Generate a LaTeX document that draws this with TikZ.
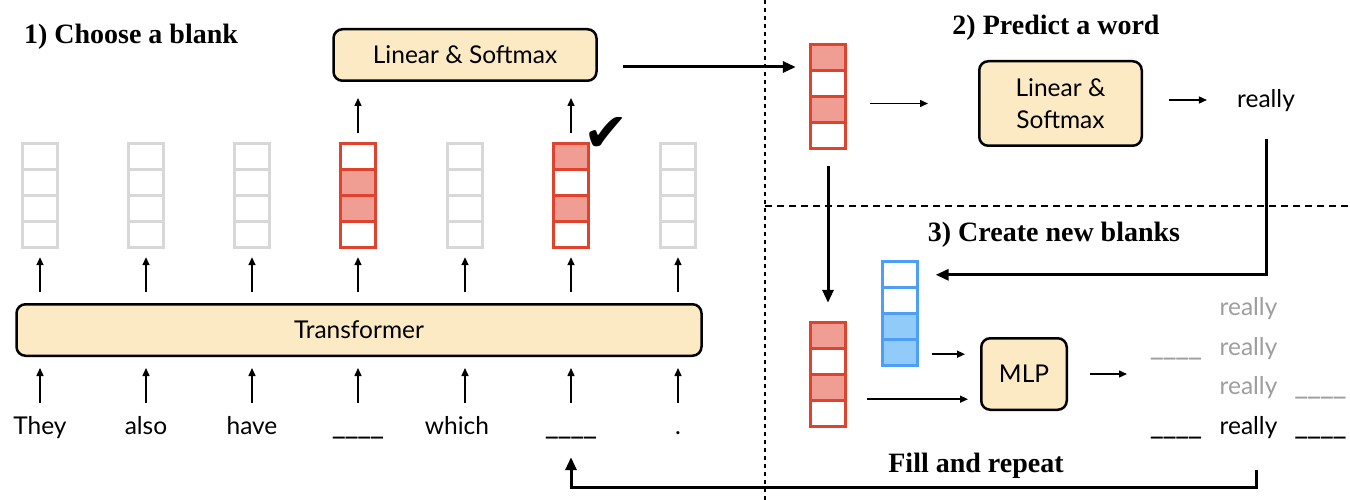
\documentclass[tikz,border=0pt]{standalone}
\usepackage{fontspec}
\usepackage{graphicx}
\setmainfont{Lato}
\newfontfamily\titlefont{Liberation Serif}
\newfontfamily\symfont{DejaVu Sans}
\usetikzlibrary{arrows.meta,calc}
\definecolor{boxfill}{HTML}{FCEAC5}
\definecolor{rededge}{HTML}{E0432D}
\definecolor{redfill}{HTML}{F09D94}
\definecolor{grayedge}{HTML}{D8D8D8}
\definecolor{blueedge}{HTML}{4D9EF6}
\definecolor{bluefill}{HTML}{91CBF9}
\definecolor{graytext}{HTML}{9E9E9E}
\newcommand{\blank}{\scalebox{1.25}[1.3]{\_\kern-1pt\_\kern-1pt\_\kern-1pt\_}}
\tikzset{
 box/.style={draw=black, line width=2.5pt, fill=boxfill, rounded corners=9pt, inner sep=0pt, font=\fontsize{24.5}{32}\selectfont, align=center},
 word/.style={inner sep=0pt, anchor=base, text height=17pt, text depth=5pt, font=\fontsize{24.5}{28}\selectfont},
 title/.style={inner sep=0pt, anchor=base, font=\titlefont\bfseries\fontsize{28}{32}\selectfont},
 thinarrow/.style={line width=1.5pt, -{Triangle[length=8pt,width=7pt]}},
 thickarrow/.style={line width=3pt, -{Triangle[length=13pt,width=11pt]}},
 vecnode/.style={inner sep=0pt, minimum width=38pt, minimum height=107pt},
 sep/.style={line width=2.5pt},
}
\newcommand{\cellvec}[8]{%
 \node[vecnode] (#1) at (#2, {#3+53.5}) {};
 \foreach \f [count=\i] in {#5,#6,#7,#8}{
   \draw[line width=3pt, draw=#4, fill=\f] ({#2-17.5},{#3+1.5+(\i-1)*26}) rectangle ({#2+17.5},{#3+1.5+\i*26});
 }
}
\begin{document}
\begin{tikzpicture}[x=1pt,y=-1pt]
\useasboundingbox (0,0) rectangle (1350,500);
% separators
\draw[sep, dash pattern=on 4pt off 4pt] (765,0) -- (765,500);
\draw[sep, dash pattern=on 7pt off 5pt] (765,206) -- (1350,206);
% titles
\node[title] (t1) at (131,44) {1) Choose a blank};
\node[title] (t2) at (1056,35) {2) Predict a word};
\node[title] (t3) at (1054,241) {3) Create new blanks};
\node[title] (t4) at (976,472) {Fill and repeat};
% boxes
\node[box, minimum width=263pt, minimum height=51.5pt] (L1) at (465,55) {Linear \& Softmax};
\node[box, minimum width=685pt, minimum height=51.5pt] (T) at (359,330) {Transformer};
\node[box, minimum width=162.5pt, minimum height=84.5pt] (L2) at (1060.5,103.5) {Linear \&\\Softmax};
\node[box, minimum width=85.5pt, minimum height=71.5pt] (MLP) at (1024,374) {MLP};
% vectors
\cellvec{v1}{40}{142}{grayedge}{white}{white}{white}{white}
\cellvec{v2}{146}{142}{grayedge}{white}{white}{white}{white}
\cellvec{v3}{252}{142}{grayedge}{white}{white}{white}{white}
\cellvec{v4}{358}{142}{rededge}{white}{redfill}{redfill}{white}
\cellvec{v5}{465}{142}{grayedge}{white}{white}{white}{white}
\cellvec{v6}{571}{142}{rededge}{redfill}{white}{redfill}{white}
\cellvec{v7}{678}{142}{grayedge}{white}{white}{white}{white}
\cellvec{pv}{828}{43}{rededge}{redfill}{white}{redfill}{white}
\cellvec{rv}{828}{321}{rededge}{redfill}{white}{redfill}{white}
\cellvec{bv}{899.5}{260}{blueedge}{white}{white}{bluefill}{bluefill}
\node[inner sep=0pt, font=\symfont\fontsize{54}{54}\selectfont] (ck) at (606,134) {✔};
% words
\node[word] (w1) at (40,434) {They};
\node[word] (w2) at (146,434) {also};
\node[word] (w3) at (252,434) {have};
\node[word] (w4) at (358,434) {\blank};
\node[word] (w5) at (457,434) {which};
\node[word] (w6) at (571,434) {\blank};
\node[word] (w7) at (678,434) {.};
% arrows column
\foreach \i in {1,...,7}{
  \draw[thinarrow, shorten <=11pt, shorten >=8pt] (T.north -| v\i) -- (v\i.south);
  \draw[thinarrow, shorten <=14pt, shorten >=11pt] (w\i.north -| v\i) -- (T.south -| v\i);
}
\draw[thinarrow, shorten <=9pt, shorten >=16pt] (v4.north) -- (v4.north |- L1.south);
\draw[thinarrow, shorten <=9pt, shorten >=16pt] (v6.north) -- (v6.north |- L1.south);
% predict
\draw[thickarrow, shorten >=13pt] ([xshift=25pt, yshift=-12pt]L1.east) -- ([yshift=-12pt]L1.east -| pv.west);
\draw[thinarrow, shorten <=23pt, shorten >=50pt] (pv.east |- L2.west) -- (L2.west);
\node[word] (r1) at (1266,108) {really};
\draw[thinarrow, shorten <=26pt, shorten >=30pt] ([yshift=3.5pt]L2.east) -- ([yshift=3.5pt]L2.east -| r1.west);
\draw[thickarrow, shorten <=26pt] (r1.south) |- ([xshift=17pt,yshift=-15pt]bv.north east);
\draw[thickarrow, shorten <=16pt, shorten >=18pt] (pv.south) -- (rv.north);
% create
\draw[thinarrow, shorten <=13pt, shorten >=15pt] ([yshift=13pt]bv.south east) -- ([yshift=13pt]bv.south east -| MLP.west);
\draw[thinarrow, shorten <=20pt, shorten >=12pt] ([yshift=29pt]rv.south east) -- ([yshift=29pt]rv.south east -| MLP.west);
\coordinate (out) at (1127,374);
\draw[thinarrow, shorten <=22pt] (MLP.east) -- (out);
% outputs
\node[word, text=graytext] (g1) at (1248.5,315) {really};
\node[word, text=graytext] (g2) at (1248.5,355) {really};
\node[word, text=graytext] (g3) at (1248.5,394) {really};
\node[word] (b4) at (1248.5,434) {really};
\node[word, text=graytext] (bl2) at (1176,355) {\blank};
\node[word, text=graytext] (br3) at (1320.5,394) {\blank};
\node[word] (bl4) at (1176,434) {\blank};
\node[word] (br4) at (1320.5,434) {\blank};
% feedback
\draw[thickarrow, shorten >=18pt] ([xshift=8pt,yshift=-31pt]b4.south) |- ($(w6.south)+(0,48)$) -- (w6.south);
\end{tikzpicture}
\end{document}
